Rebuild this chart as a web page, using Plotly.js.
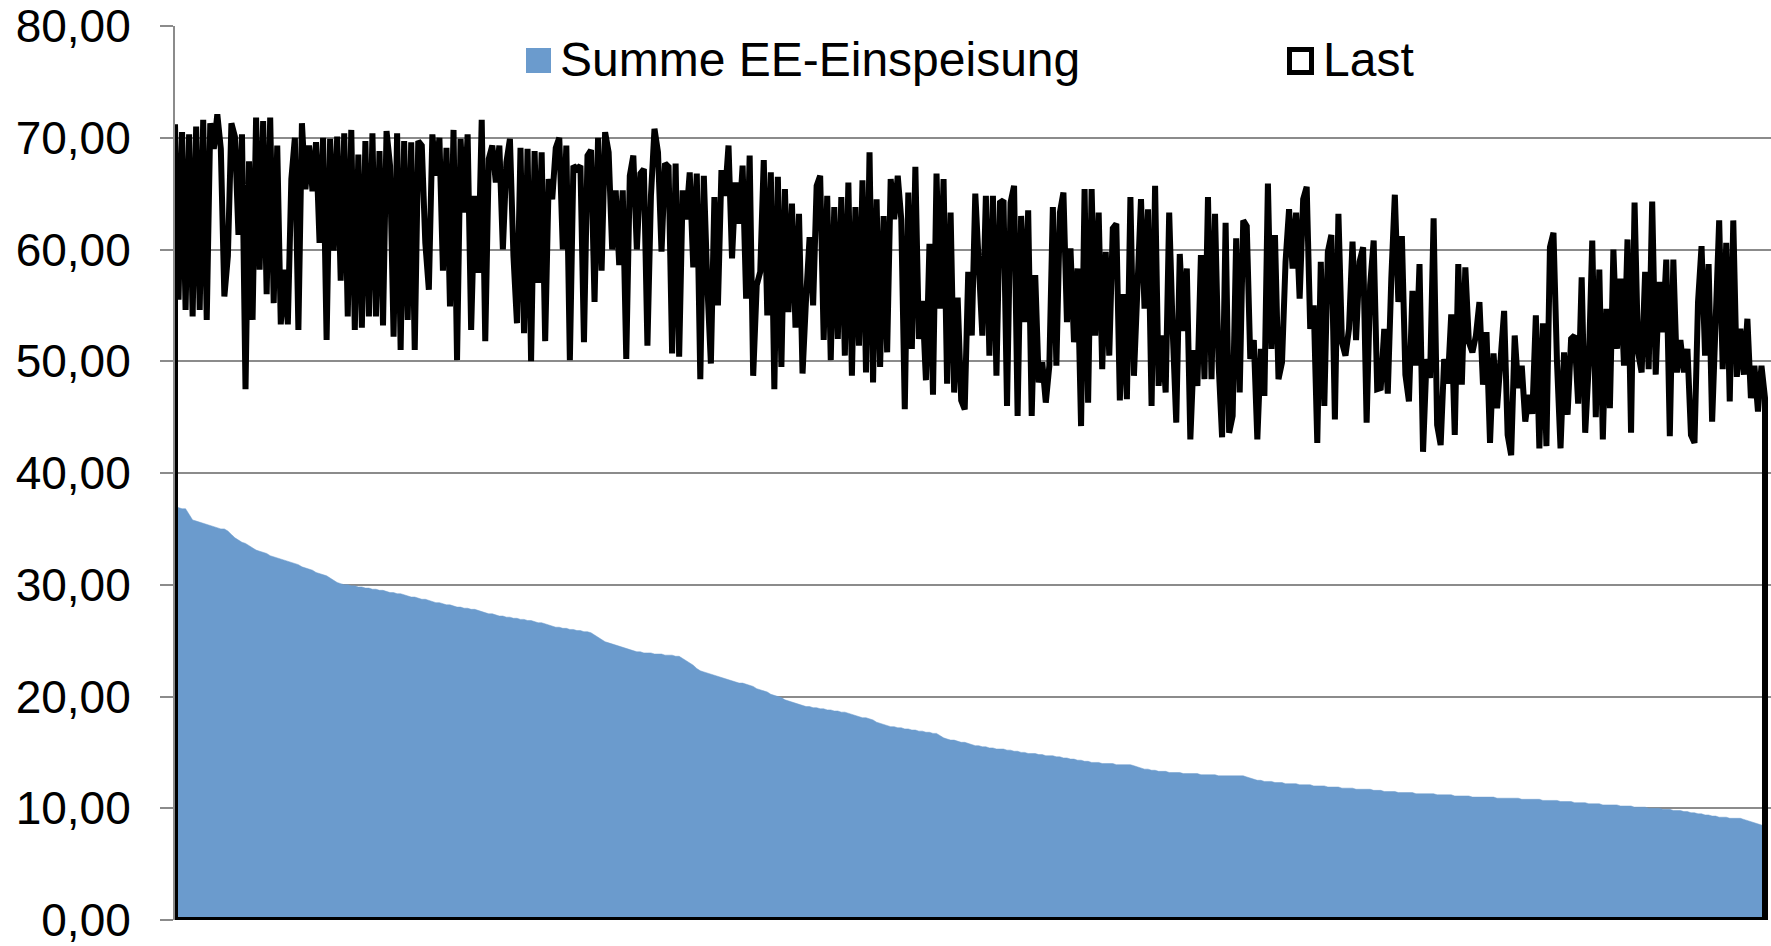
<!DOCTYPE html>
<html>
<head>
<meta charset="utf-8">
<script src="https://cdn.plot.ly/plotly-3.0.1.min.js"></script>
<style>
  html, body { margin: 0; padding: 0; background: #ffffff; }
  #chart { width: 1771px; height: 946px; }
</style>
</head>
<body>
<div id="chart"></div>
<script>
// ---- data (hours sorted by renewable feed-in, descending) ----
const seriesNames = ["Summe EE-Einspeisung", "Last"];

const last = [
  71.2, 55.5, 70.5, 54.6, 70.3, 54.0, 71.0, 54.6, 71.6, 53.7,
  71.3, 69.0, 72.1, 69.0, 55.8, 59.4, 71.3, 70.1, 61.3, 70.3,
  47.5, 67.9, 53.7, 71.8, 58.2, 71.5, 56.0, 71.8, 55.2, 69.3,
  53.3, 58.2, 53.3, 66.3, 70.0, 52.8, 71.3, 65.4, 69.3, 65.2,
  69.6, 60.6, 70.0, 51.9, 69.9, 59.9, 70.1, 57.2, 70.4, 54.0,
  70.7, 52.8, 68.5, 53.0, 69.7, 54.0, 70.4, 54.0, 68.8, 53.2,
  70.6, 67.5, 52.2, 70.4, 51.0, 69.7, 53.7, 69.6, 51.0, 69.7,
  69.3, 60.6, 56.4, 70.3, 66.6, 70.0, 58.1, 69.1, 54.9, 70.7,
  50.1, 69.9, 63.3, 70.3, 52.8, 64.8, 57.9, 71.6, 51.8, 68.1,
  69.3, 66.0, 69.3, 60.0, 67.8, 69.9, 59.4, 53.4, 69.1, 52.5,
  69.0, 50.0, 68.8, 57.0, 68.7, 51.8, 66.3, 64.5, 69.1, 70.0,
  60.0, 69.3, 50.1, 67.5,
  67.2, 67.5, 51.7, 68.4, 68.9, 55.3, 70.0, 58.1, 70.5, 68.7,
  60.0, 65.3, 58.6, 65.3, 50.2, 66.6, 68.4, 60.0, 66.8, 67.2,
  51.4, 64.8, 70.8, 68.7, 59.8, 67.7, 67.4, 50.7, 67.7, 50.4,
  65.3, 62.7, 66.9, 58.4, 66.8, 48.4, 66.6, 56.8, 49.8, 64.7,
  55.0, 67.1, 64.8, 69.3, 59.2, 66.0, 62.3, 67.5, 55.6, 68.4,
  48.7, 56.8, 58.0, 68.0, 54.1, 66.9, 47.5, 66.5, 49.5, 65.4,
  54.4, 64.1, 53.0, 63.2, 48.9, 55.6, 61.1, 55.0, 65.7, 66.6,
  51.9, 64.8, 50.1, 63.8, 52.0, 64.7, 50.5, 66.0, 48.7, 63.8,
  51.4, 66.2, 49.0, 68.7, 48.1, 64.5, 49.5, 63.0, 50.8, 66.3,
  62.7, 66.6, 62.7, 45.7, 65.1, 51.1, 67.4, 52.0, 55.4, 48.3,
  60.5, 47.0, 66.8, 54.7, 66.3, 48.0, 63.3, 47.2, 55.7, 46.5,
  45.7, 58.0, 52.3, 65.0,
  58.0, 52.3, 64.8, 50.5, 64.8, 48.7, 64.2, 64.4, 46.0, 64.2,
  65.7, 45.1, 63.0, 53.5, 63.5, 45.1, 57.7, 48.1, 49.9, 46.3,
  49.6, 63.8, 49.6, 63.3, 65.1, 53.5, 60.1, 51.7, 58.3, 44.2,
  65.4, 46.3, 65.4, 52.3, 63.3, 49.3, 59.8, 50.5, 61.9, 62.3,
  46.5, 56.0, 46.6, 64.7, 48.7, 55.6, 64.5, 54.7, 63.6, 46.0,
  65.7, 47.8, 52.3, 47.2, 63.3, 52.7, 44.5, 59.6, 52.7, 58.3,
  43.0, 51.0, 47.8, 59.5, 48.4, 64.7, 48.4, 63.2, 49.9, 43.2,
  62.4, 43.6, 45.1, 61.0, 47.2, 62.6, 62.1, 50.2, 51.9, 43.0,
  51.1, 46.9, 65.9, 51.1, 61.3, 48.4, 49.9, 58.9, 63.6, 58.3,
  63.3, 55.6, 64.5, 65.6, 52.9, 55.0, 42.7, 58.9, 46.0, 59.8,
  61.3, 44.8, 63.2, 51.7, 50.5, 52.9, 60.7, 51.9, 58.9, 60.2,
  44.5, 56.8, 60.8, 47.5,
  47.6, 52.9, 47.1, 57.4, 64.9, 55.3, 61.2, 48.8, 46.4, 56.3,
  49.6, 58.7, 41.9, 50.2, 48.5, 62.8, 44.3, 42.5, 50.2, 48.0,
  54.2, 43.4, 58.7, 47.9, 58.4, 51.7, 50.8, 52.3, 55.3, 47.9,
  52.6, 42.7, 50.7, 45.8, 49.9, 54.5, 43.4, 41.6, 52.3, 47.6,
  49.6, 44.6, 47.0, 45.3, 54.1, 42.2, 53.4, 42.4, 60.2, 61.5,
  49.9, 42.2, 50.8, 45.2, 52.0, 52.3, 46.2, 57.5, 43.6, 49.6,
  60.8, 45.0, 58.2, 43.0, 54.7, 45.8, 60.0, 51.1, 57.4, 49.6,
  60.9, 43.6, 64.2, 50.8, 49.0, 58.0, 49.3, 64.3, 48.8, 57.1,
  52.6, 59.1, 43.3, 59.1, 49.0, 51.9, 49.0, 51.1, 43.4, 42.7,
  55.3, 60.3, 50.5, 58.7, 44.6, 54.4, 62.6, 49.3, 60.6, 46.4,
  62.6, 48.6, 52.9, 48.8, 53.8, 46.7, 49.6, 45.5, 49.6, 46.7
];

const ee = [
  37.0, 36.9, 36.8, 36.8, 36.3, 35.8, 35.7, 35.6, 35.5, 35.4,
  35.3, 35.2, 35.1, 35.0, 35.0, 34.8, 34.5, 34.2, 34.0, 33.8,
  33.7, 33.5, 33.3, 33.1, 33.0, 32.9, 32.8, 32.6, 32.5, 32.4,
  32.3, 32.2, 32.1, 32.0, 31.9, 31.8, 31.6, 31.5, 31.4, 31.3,
  31.1, 31.0, 30.9, 30.8, 30.6, 30.4, 30.2, 30.1, 30.0, 30.0,
  29.9, 29.9, 29.8, 29.8, 29.7, 29.7, 29.6, 29.6, 29.5, 29.5,
  29.4, 29.3, 29.3, 29.2, 29.2, 29.1, 29.0, 28.9, 28.9, 28.8,
  28.7, 28.7, 28.6, 28.5, 28.4, 28.4, 28.3, 28.2, 28.2, 28.1,
  28.0, 28.0, 27.9, 27.9, 27.8, 27.8, 27.7, 27.6, 27.5, 27.4,
  27.4, 27.3, 27.2, 27.2, 27.1, 27.1, 27.0, 27.0, 26.9, 26.9,
  26.8, 26.8, 26.7, 26.6, 26.6, 26.5, 26.4, 26.3, 26.2, 26.2,
  26.1, 26.1, 26.0, 26.0, 25.9, 25.9, 25.8, 25.8, 25.7, 25.5,
  25.3, 25.1, 24.9, 24.8, 24.7, 24.6, 24.5, 24.4, 24.3, 24.2,
  24.1, 24.0, 24.0, 23.9, 23.9, 23.9, 23.8, 23.8, 23.8, 23.7,
  23.7, 23.7, 23.6, 23.6, 23.4, 23.2, 23.0, 22.8, 22.5, 22.3,
  22.2, 22.1, 22.0, 21.9, 21.8, 21.7, 21.6, 21.5, 21.4, 21.3,
  21.2, 21.2, 21.1, 21.0, 20.9, 20.7, 20.6, 20.5, 20.4, 20.2,
  20.1, 20.0, 19.9, 19.7, 19.6, 19.5, 19.4, 19.3, 19.2, 19.1,
  19.1, 19.0, 19.0, 18.9, 18.9, 18.8, 18.8, 18.7, 18.7, 18.6,
  18.6, 18.5, 18.4, 18.3, 18.2, 18.1, 18.1, 18.0, 17.9, 17.7,
  17.6, 17.5, 17.4, 17.3, 17.3, 17.2, 17.2, 17.1, 17.1, 17.0,
  17.0, 16.9, 16.9, 16.8, 16.8, 16.7, 16.7, 16.5, 16.3, 16.2,
  16.1, 16.1, 16.0, 15.9, 15.9, 15.8, 15.7, 15.6, 15.6, 15.5,
  15.5, 15.4, 15.4, 15.3, 15.3, 15.3, 15.2, 15.2, 15.1, 15.1,
  15.0, 15.0, 14.9, 14.9, 14.9, 14.8, 14.8, 14.7, 14.7, 14.7,
  14.6, 14.6, 14.5, 14.5, 14.4, 14.4, 14.3, 14.3, 14.2, 14.2,
  14.1, 14.1, 14.1, 14.0, 14.0, 14.0, 14.0, 13.9, 13.9, 13.9,
  13.9, 13.9, 13.8, 13.7, 13.6, 13.5, 13.5, 13.4, 13.4, 13.3,
  13.3, 13.3, 13.2, 13.2, 13.2, 13.2, 13.1, 13.1, 13.1, 13.1,
  13.1, 13.0, 13.0, 13.0, 13.0, 13.0, 12.9, 12.9, 12.9, 12.9,
  12.9, 12.9, 12.9, 12.9, 12.8, 12.7, 12.6, 12.5, 12.5, 12.4,
  12.4, 12.4, 12.3, 12.3, 12.3, 12.2, 12.2, 12.2, 12.2, 12.1,
  12.1, 12.1, 12.1, 12.0, 12.0, 12.0, 12.0, 11.9, 11.9, 11.9,
  11.9, 11.8, 11.8, 11.8, 11.8, 11.7, 11.7, 11.7, 11.7, 11.7,
  11.6, 11.6, 11.6, 11.5, 11.5, 11.5, 11.5, 11.4, 11.4, 11.4,
  11.4, 11.4, 11.3, 11.3, 11.3, 11.3, 11.3, 11.3, 11.2, 11.2,
  11.2, 11.2, 11.2, 11.1, 11.1, 11.1, 11.1, 11.1, 11.0, 11.0,
  11.0, 11.0, 11.0, 11.0, 11.0, 10.9, 10.9, 10.9, 10.9, 10.9,
  10.9, 10.9, 10.8, 10.8, 10.8, 10.8, 10.8, 10.8, 10.7, 10.7,
  10.7, 10.7, 10.7, 10.6, 10.6, 10.6, 10.6, 10.5, 10.5, 10.5,
  10.5, 10.4, 10.4, 10.4, 10.4, 10.3, 10.3, 10.3, 10.3, 10.3,
  10.2, 10.2, 10.2, 10.2, 10.1, 10.1, 10.1, 10.1, 10.0, 10.0,
  10.0, 10.0, 9.9, 9.9, 9.9, 9.8, 9.8, 9.8, 9.7, 9.7,
  9.6, 9.6, 9.5, 9.5, 9.4, 9.4, 9.3, 9.3, 9.2, 9.2,
  9.2, 9.1, 9.1, 9.1, 9.1, 9.0, 8.9, 8.8, 8.7, 8.6,
  8.5, 8.3
];

// category axis: hour rank 1..N
const hours = last.map((_, i) => i + 1);

const yTickVals = [0, 10, 20, 30, 40, 50, 60, 70, 80];

// ---- layout geometry (pixels) ----
const W = 1771, H = 946;
const M = { l: 175, r: 0, t: 26, b: 26 };
const plotW = W - M.l - M.r, plotH = H - M.t - M.b;
const px = v => (v - M.l) / plotW;          // pixel x -> paper x
const py = v => (H - M.b - v) / plotH;      // pixel y -> paper y

const FONT = "Liberation Sans, Arial, Helvetica, sans-serif";
const BLUE = "#6b9bcd";
const GRID = "#8b8b8b";

const N = hours.length;

const traces = [
  {
    name: seriesNames[0],
    x: hours,
    y: ee,
    type: "scatter",
    mode: "lines",
    fill: "tozeroy",
    fillcolor: BLUE,
    line: { color: BLUE, width: 0.5, shape: "linear" },
    showlegend: false,
    hoverinfo: "skip"
  },
  {
    // area outline of "Last": left edge, data, right edge, baseline
    name: seriesNames[1],
    x: [hours[0]].concat(hours, [hours[N - 1], hours[0]]),
    y: [0].concat(last, [0, 0]),
    type: "scatter",
    mode: "lines",
    line: { color: "#000000", width: 6, shape: "linear" },
    showlegend: false,
    hoverinfo: "skip"
  }
];

const layout = {
  width: W,
  height: H,
  margin: M,
  paper_bgcolor: "#ffffff",
  plot_bgcolor: "#ffffff",
  separators: ",.",
  font: { family: FONT, size: 46, color: "#000000" },
  showlegend: false,
  xaxis: {
    range: [hours[0], hours[N - 1] + 1.7],
    showgrid: false,
    zeroline: false,
    showline: false,
    showticklabels: false,
    ticks: ""
  },
  yaxis: {
    range: [0, 80],
    tickvals: yTickVals,
    tickformat: ".2f",
    showgrid: true,
    gridcolor: GRID,
    gridwidth: 2,
    zeroline: false,
    showline: true,
    linecolor: GRID,
    linewidth: 2,
    ticks: "outside",
    ticklen: 13,
    tickwidth: 2,
    tickcolor: GRID,
    ticklabelstandoff: 20,
    ticklabeloverflow: "allow",
    tickfont: { family: FONT, size: 46, color: "#000000" }
  },
  shapes: [
    { type: "rect", xref: "paper", yref: "paper",
      x0: px(526), x1: px(551), y0: py(73), y1: py(48),
      fillcolor: BLUE, line: { width: 0 } },
    { type: "rect", xref: "paper", yref: "paper",
      x0: px(1289.5), x1: px(1311.5), y0: py(72.5), y1: py(49.5),
      fillcolor: "rgba(0,0,0,0)", line: { color: "#000000", width: 5 } }
  ],
  annotations: [
    { xref: "paper", yref: "paper", x: px(558), y: py(59),
      xanchor: "left", yanchor: "middle", showarrow: false,
      text: seriesNames[0], font: { family: FONT, size: 48, color: "#000000" } },
    { xref: "paper", yref: "paper", x: px(1321), y: py(59),
      xanchor: "left", yanchor: "middle", showarrow: false,
      text: seriesNames[1], font: { family: FONT, size: 48, color: "#000000" } }
  ]
};

Plotly.newPlot("chart", traces, layout, { staticPlot: true, displayModeBar: false });
</script>
</body>
</html>
